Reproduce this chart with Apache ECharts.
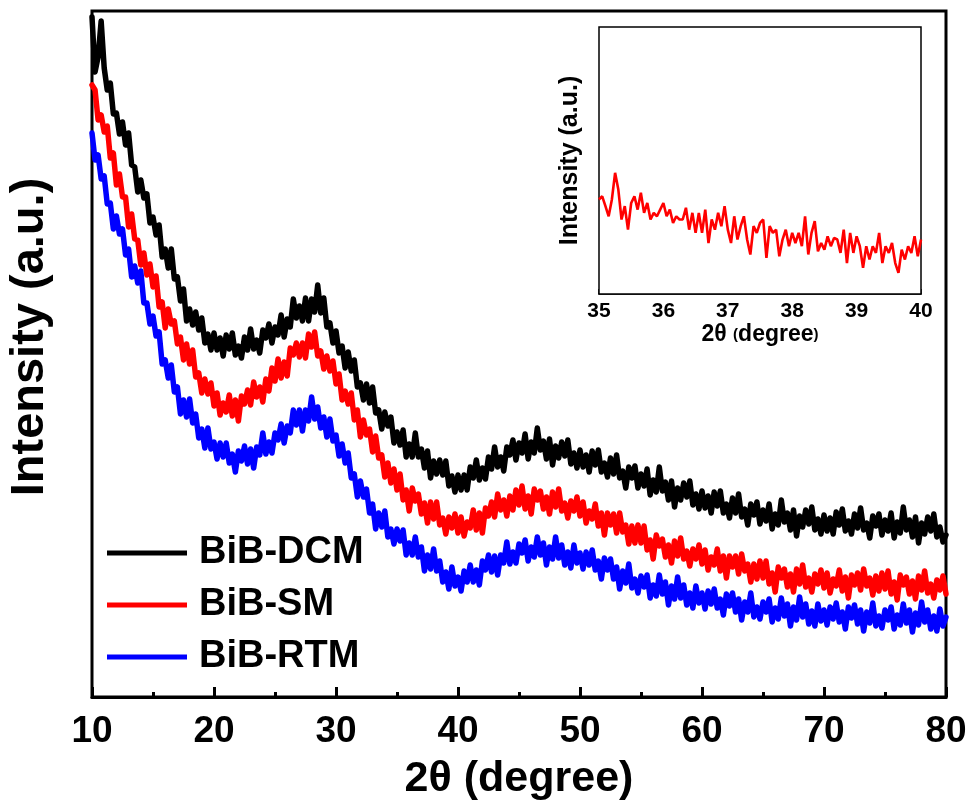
<!DOCTYPE html>
<html><head><meta charset="utf-8">
<script src="https://cdn.jsdelivr.net/npm/echarts@6/dist/echarts.min.js"></script>
<style>html,body{margin:0;padding:0;background:#fff}#c{width:969px;height:805px}</style>
</head><body><div id="c"></div>
<script>
// Main XRD patterns: 2θ from 10 to 80 in steps of 0.25 degree (intensity, a.u.)
const xStart = 10, xStep = 0.25;
const dcm = [
680,625,640,676, 629,607,614,583, 584,563,575,552, 564,532,530,505, 517,499,503,474,
480,462,472,440, 448,429,448,418, 420,396,408,376, 388,372,385,367, 379,354,363,347,
364,347,359,341, 362,348,364,342, 351,339,360,347, 368,348,357,344, 367,359,373,354,
370,362,382,360, 378,370,398,379, 391,376,399,376, 398,385,412,384, 399,370,374,354,
366,344,351,329, 345,326,337,310, 314,297,313,294, 310,284,287,268, 285,271,280,254,
265,252,267,240, 253,240,264,240, 248,229,246,219, 236,223,237,222, 236,211,221,205,
222,207,222,207, 230,219,237,217, 229,218,240,228, 250,230,240,226, 250,242,257,237,
254,244,263,238, 255,244,269,247, 256,238,258,232, 251,239,255,241, 257,233,244,229,
247,230,242,225, 246,232,247,225, 234,220,239,223, 242,219,226,209, 230,219,231,209,
223,211,228,202, 217,205,230,206, 215,197,216,190, 209,197,214,200, 216,192,203,188,
206,189,201,184, 205,191,206,184, 193,179,199,184, 203,180,188,172, 193,182,195,173,
187,176,193,168, 183,172,197,175, 184,167,187,161, 181,170,187,173, 190,167,178,163,
182,166,179,163, 185,172,188,166, 176,163,183,169, 189,167,174,159, 181,171,183,162,
177,166,184,159, 175,164,190,167, 177,160,180,154, 174,163,180,166, 183,160,170,155,
162];
const sm = [
612,607,577,582, 565,571,539,544, 512,523,500,500, 470,483,458,457, 432,444,422,433,
410,421,390,395, 369,388,373,376, 353,360,337,353, 333,347,320,324, 304,318,303,314,
291,304,282,294, 285,302,281,297, 276,301,293,307, 292,315,300,310, 295,318,306,329,
316,338,319,335, 321,349,342,354, 340,354,339,363, 350,365,341,346, 328,341,326,336,
313,323,297,306, 293,304,277,287, 260,277,262,268, 245,261,239,242, 220,234,214,228,
207,223,197,207, 186,209,196,203, 183,194,174,195, 178,195,172,179, 163,180,169,183,
164,180,161,175, 169,187,167,184, 164,189,181,195, 180,203,187,197, 181,201,187,207,
192,211,188,201, 183,208,197,206, 188,200,183,205, 190,208,186,194, 179,196,186,200,
181,195,174,186, 178,193,171,184, 162,184,172,183, 164,184,165,172, 153,171,154,172,
154,171,147,157, 138,162,151,158, 140,152,134,156, 141,159,138,146, 131,148,138,152,
133,147,127,140, 132,148,126,141, 119,141,130,141, 123,143,126,133, 115,133,118,136,
119,136,113,124, 105,130,119,128, 110,123,105,128, 113,132,110,119, 105,123,113,127,
109,124,104,118, 111,127,106,120, 99,122,112,124, 107,128,111,119, 102,121,106,124,
108,126,103,115, 97,122,112,120, 103,116,98,121, 107,126,104,113, 99,117,107,121,
103];
const rtm = [
564,537,542,518, 521,493,494,468, 481,463,468,442, 448,420,431,414, 426,394,394,373,
381,361,365,333, 337,319,332,305, 310,283,297,280, 298,274,283,259, 268,249,269,248,
255,238,254,240, 254,234,243,225, 246,236,251,233, 248,229,250,242, 264,243,255,244,
264,257,273,254, 271,264,287,272, 287,266,287,276, 300,278,290,269, 280,260,278,256,
262,241,253,234, 244,219,223,200, 216,200,208,184, 193,168,184,170, 186,160,168,153,
168,156,167,142, 154,142,160,140, 150,126,142,128, 148,126,136,115, 125,108,130,111,
120,106,126,115, 132,115,127,112, 136,127,142,125, 141,122,142,134, 155,133,145,134,
153,144,157,136, 150,140,160,142, 154,132,150,138, 160,139,152,132, 145,129,152,134,
144,128,145,132, 147,127,136,118, 139,127,138,118, 130,108,126,114, 133,109,118,104,
121,110,122,99, 112,101,122,103, 115,92,111,98, 120,99,112,92, 104,89,111,94,
104,88,106,93, 108,89,98,82, 103,91,104,85, 98,77,95,85, 104,80,90,78,
95,85,98,75, 89,78,99,81, 93,71,90,77, 100,80,93,73, 86,71,93,76,
87,72,90,78, 94,75,85,68, 90,79,92,73, 87,66,85,74, 94,71,81,69,
87,77,90,68, 82,72,93,74, 87,65,84,72, 95,75,87,68, 81,66,88,71,
80];
// Inset: BiB-SM from 35 to 40 degree in steps of 0.05 (a.u.)
const insetStart = 35, insetStep = 0.05;
const insetSM = [
35.4,36.6,32.9,29.1,35.4,45.4,39.1,27.9,32.9,24.1,
34.1,36.6,31.6,37.9,30.4,34.1,27.9,30.4,29.1,31.6,
34.1,29.1,31.6,26.6,29.1,27.9,27.9,32.3,24.1,30.4,
22.9,30.4,22.9,31.6,19.1,27.9,24.1,30.4,25.4,32.9,
24.1,19.1,29.1,20.4,25.4,29.1,20.4,14.8,25.4,22.9,
26.6,27.9,13.5,25.4,22.9,24.1,14.1,20.4,24.1,17.9,
22.9,19.1,22.9,17.9,29.1,14.8,22.9,27.3,16.0,19.1,
16.6,21.6,17.9,21.0,20.4,15.4,24.1,11.6,22.9,15.4,
21.6,17.9,9.8,17.9,12.9,17.9,15.4,22.9,11.6,17.9,
15.4,19.1,11.6,7.9,16.6,12.9,17.9,15.4,21.6,14.1,
20.4];
const seriesNames = ['BiB-DCM', 'BiB-SM', 'BiB-RTM'];
const seriesColors = ['#000000', '#ff0000', '#0000ff'];
const mainTicks = {min: 10, max: 80, interval: 10};
const insetTicks = {min: 35, max: 40, interval: 1};

function pairs(arr, start, step) {
  return arr.map((v, i) => [+(start + i * step).toFixed(2), v]);
}
const FF = 'Arial, "Liberation Sans", Helvetica, sans-serif';
const chart = echarts.init(document.getElementById('c'), null, {renderer: 'canvas'});
const mainData = [dcm, sm, rtm];
const series = mainData.map((d, i) => ({
  name: seriesNames[i], type: 'line', xAxisIndex: 0, yAxisIndex: 0,
  data: pairs(d, xStart, xStep), showSymbol: false, symbol: 'none',
  lineStyle: {width: 5.5, color: seriesColors[i], join: 'round', cap: 'round'},
  itemStyle: {color: seriesColors[i]},
  z: 2 + i
}));
series.push({
  name: 'inset', type: 'line', xAxisIndex: 1, yAxisIndex: 1,
  data: pairs(insetSM, insetStart, insetStep), showSymbol: false, symbol: 'none',
  lineStyle: {width: 2.6, color: '#ff0000'}, itemStyle: {color: '#ff0000'}, z: 6
});
chart.setOption({
  animation: false,
  backgroundColor: '#fff',
  textStyle: {fontFamily: FF},
  grid: [
    {left: 92, top: 11, width: 854, height: 686, show: true, borderColor: '#000', borderWidth: 3,
     backgroundColor: 'transparent', containLabel: false, outerBoundsMode: 'none'},
    {left: 599, top: 27, width: 322, height: 267, show: true, borderColor: '#000', borderWidth: 1.5,
     backgroundColor: '#fff', z: 5, containLabel: false, outerBoundsMode: 'none'}
  ],
  legend: {
    data: seriesNames, orient: 'vertical', left: 107, top: 534, padding: 0,
    icon: 'rect', itemWidth: 80, itemHeight: 5, itemGap: 14,
    textStyle: {fontSize: 38, fontWeight: 'bold', color: '#000', fontFamily: FF, lineHeight: 38, padding: [0, 0, 0, 7]}
  },
  xAxis: [
    {gridIndex: 0, type: 'value', min: mainTicks.min, max: mainTicks.max, interval: mainTicks.interval,
     axisLine: {show: true, lineStyle: {color: '#000', width: 3}},
     axisTick: {show: true, inside: true, length: 10, lineStyle: {color: '#000', width: 3}},
     minorTick: {show: true, splitNumber: 2, length: 5, lineStyle: {color: '#000', width: 3}},
     splitLine: {show: false},
     axisLabel: {fontSize: 37, fontWeight: 'bold', color: '#000', margin: 16, fontFamily: FF},
     name: '2θ (degree)', nameLocation: 'middle', nameGap: 61,
     nameTextStyle: {fontSize: 43, fontWeight: 'bold', color: '#000', fontFamily: FF}},
    {gridIndex: 1, type: 'value', min: insetTicks.min, max: insetTicks.max, interval: insetTicks.interval,
     axisLine: {show: true, lineStyle: {color: '#000', width: 1.5}},
     axisTick: {show: true, inside: true, length: 5, lineStyle: {color: '#000', width: 1.5}},
     minorTick: {show: true, splitNumber: 2, length: 3, lineStyle: {color: '#000', width: 1.5}},
     splitLine: {show: false},
     axisLabel: {fontSize: 21, fontWeight: 'bold', color: '#000', margin: 7, fontFamily: FF},
     name: '{a|2θ }{p|(}{a|degree}{p|)}', nameLocation: 'middle', nameGap: 27,
     nameTextStyle: {rich: {a: {fontSize: 23, fontWeight: 'bold', color: '#000', fontFamily: FF},
                            p: {fontSize: 15, fontWeight: 'bold', color: '#000', fontFamily: FF}}}}
  ],
  yAxis: [
    {gridIndex: 0, type: 'value', min: 0, max: 686,
     axisLine: {show: false}, axisTick: {show: false}, axisLabel: {show: false}, splitLine: {show: false},
     name: 'Intensity (a.u.)', nameLocation: 'middle', nameGap: 38,
     nameTextStyle: {fontSize: 47, fontWeight: 'bold', color: '#000', fontFamily: FF, padding: [0, 0, 0, 34]}},
    {gridIndex: 1, type: 'value', min: 0, max: 100,
     axisLine: {show: false}, axisTick: {show: false}, axisLabel: {show: false}, splitLine: {show: false},
     name: 'Intensity (a.u.)', nameLocation: 'middle', nameGap: 16,
     nameTextStyle: {fontSize: 25, fontWeight: 'bold', color: '#000', fontFamily: FF}}
  ],
  series: series
});
</script>
</body></html>
